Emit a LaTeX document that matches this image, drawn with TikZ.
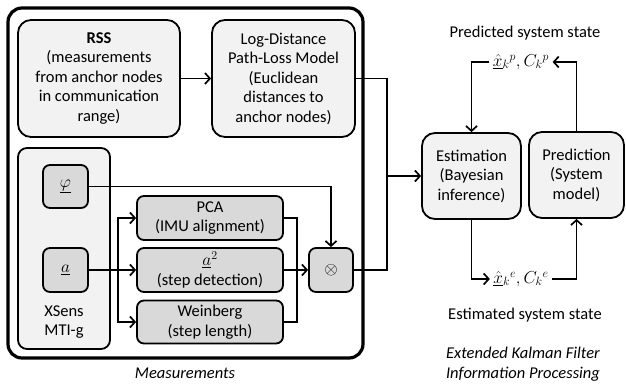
\documentclass[tikz,border=0pt]{standalone}
\usepackage{fontspec}
\setmainfont{Carlito}
\usetikzlibrary{arrows.meta,positioning,calc}
\definecolor{boxlight}{HTML}{F2F2F2}
\definecolor{boxdark}{HTML}{D9D9D9}
\newcommand{\boxfont}{\fontsize{16.5}{19.5}\selectfont}
\tikzset{
    frame_block/.style={
        draw,
        line width=3.2pt,
        rectangle,
        rounded corners=14pt
    },
    block/.style={
        draw,
        line width=1.8pt,
        rectangle,
        rounded corners=13pt,
        fill=boxlight,
        align=center,
        inner sep=0pt
    },
    sensor/.style={
        draw,
        line width=1.8pt,
        rectangle,
        rounded corners=7pt,
        fill=boxdark,
        align=center,
        inner sep=0pt
    },
    caption/.style={
        align=center,
        font=\boxfont\itshape
    },
    statevec/.style={
        font=\fontsize{18}{20}\selectfont
    },
    flow/.style={
        line width=1.7pt,
        -{Straight Barb[length=5pt,width=11pt,line width=1.7pt]}
    },
    wire/.style={
        line width=1.7pt
    },
}

\begin{document}
\begin{tikzpicture}[x=1pt, y=-1pt, font=\boxfont]
    \useasboundingbox (0,0) rectangle (626,383);

    % measurements
    \node[frame_block, minimum width=355pt, minimum height=350pt] (meas) at (185.5,183) {};
    \node[caption] (measlbl) at (185,373) {Measurements};

    \node[block, minimum width=162pt, minimum height=117pt] (rss) at (99,78.5)
        {\textbf{RSS}\\(measurements\\from anchor nodes\\in communication\\range)};
    \node[block, minimum width=143pt, minimum height=117pt] (pathloss) at (283.5,78.5)
        {Log-Distance\\Path-Loss Model\\(Euclidean\\distances to\\anchor nodes)};

    \node[block, rounded corners=9pt, minimum width=92pt, minimum height=201pt] (xsens) at (64,248.5) {};
    \node[align=center] (xsenslbl) at (64,322) {XSens\\MTI-g};
    \node[sensor, statevec, minimum width=45pt, minimum height=43pt] (phi) at (65.5,186.5) {$\underline{\varphi}$};
    \node[sensor, statevec, minimum width=45pt, minimum height=44pt] (acc) at (65.5,270) {$\underline{a}$};

    \node[sensor, minimum width=146pt, minimum height=44pt] (pca) at (210,218) {PCA\\(IMU alignment)};
    \node[sensor, minimum width=146pt, minimum height=44pt] (asq) at (210,270) {$\underline{a}^2$\\(step detection)};
    \node[sensor, minimum width=146pt, minimum height=43pt] (weinberg) at (210,322) {Weinberg\\(step length)};
    \node[sensor, statevec, minimum width=44pt, minimum height=44pt] (mult) at (331,270) {$\otimes$};

    % extended kalman filter
    \node[block, minimum width=99pt, minimum height=86pt] (est) at (471.5,176) {Estimation\\(Bayesian\\inference)};
    \node[block, minimum width=95pt, minimum height=86pt] (pred) at (576.5,175) {Prediction\\(System\\model)};

    \node (predlbl) at (525,33) {Predicted system state};
    \node[statevec] (predstate) at (521,62) {$\underline{\hat{x}}_k{}^{p}, C_k{}^{p}$};
    \node[statevec] (eststate) at (521,279) {$\underline{\hat{x}}_k{}^{e}, C_k{}^{e}$};
    \node (estlbl) at (525,315) {Estimated system state};
    \node[caption] (ekf) at (523,364) {Extended Kalman Filter\\Information Processing};

    \coordinate (split) at (118,270);
    \coordinate (merge) at (297,270);
    \coordinate (join) at (387,176);

    \draw[flow] (rss) -- (pathloss);
    \draw[flow] (phi.east) -| (mult.north);
    \draw[flow] (acc.east) -- (asq.west);
    \draw[flow] (split) |- (pca.west);
    \draw[flow] (split) |- (weinberg.west);
    \draw[wire] (pca.east) -| (merge);
    \draw[wire] (weinberg.east) -| (merge);
    \draw[flow] (asq.east) -- (mult.west);
    \draw[wire] (pathloss.east) -| (join);
    \draw[wire] (mult.east) -| (join);
    \draw[flow] (join) -- (est.west);
    \draw[flow] (predstate.west) -| (est.north);
    \draw[flow] (pred.north) |- (predstate.east);
    \draw[flow] (est.south) |- (eststate.west);
    \draw[flow] (eststate.east) -| (pred.south);
\end{tikzpicture}
\end{document}
